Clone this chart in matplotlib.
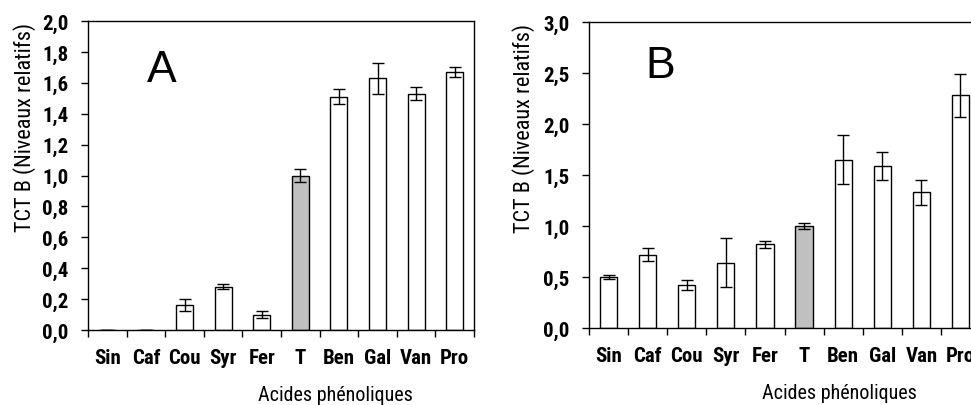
import matplotlib
matplotlib.use("Agg")
from matplotlib import pyplot as plt
from matplotlib.ticker import FixedLocator, NullFormatter, FuncFormatter
import numpy as np

# data
categories = ['Sin', 'Caf', 'Cou', 'Syr', 'Fer', 'T', 'Ben', 'Gal', 'Van', 'Pro']
values_a = [0.0, 0.0, 0.16, 0.28, 0.10, 1.0, 1.51, 1.63, 1.53, 1.67]
errors_a = [0.0, 0.0, 0.04, 0.015, 0.02, 0.04, 0.05, 0.10, 0.04, 0.035]
values_b = [0.50, 0.72, 0.42, 0.64, 0.82, 1.0, 1.65, 1.59, 1.33, 2.28]
errors_b = [0.02, 0.06, 0.05, 0.24, 0.035, 0.03, 0.24, 0.14, 0.12, 0.21]
control = 'T'

NARROW = ['Roboto Condensed', 'Liberation Sans Narrow', 'Roboto', 'DejaVu Sans']
REGULAR = ['Liberation Sans', 'DejaVu Sans']
W, H = 971, 406


def px_box(left, top, right, bottom):
    return [left / W, 1 - bottom / H, (right - left) / W, (bottom - top) / H]


def draw_panel(ax, values, errors, ymax, step, letter, letter_xy):
    x = np.arange(len(categories))
    colors = ['#c0c0c0' if c == control else 'white' for c in categories]
    ax.bar(x, values, width=0.44, color=colors, edgecolor='black', linewidth=1.0,
           yerr=errors, capsize=4, error_kw=dict(elinewidth=1.0, capthick=1.0, ecolor='black'))
    ax.set_xlim(-0.5, len(categories) - 0.5)
    ax.set_ylim(0, ymax)
    ax.set_yticks(np.arange(0, ymax + step / 2, step))
    ax.yaxis.set_major_formatter(FuncFormatter(lambda v, p: ('%.1f' % v).replace('.', ',')))
    ax.xaxis.set_major_locator(FixedLocator(np.arange(-0.5, len(categories), 1.0)))
    ax.xaxis.set_major_formatter(NullFormatter())
    ax.tick_params(axis='both', direction='out', length=5, width=1.0, color='black')
    ax.tick_params(axis='y', pad=9)
    for lab in ax.get_yticklabels():
        lab.set_family(NARROW)
        lab.set_weight('heavy')
        lab.set_fontsize(15)
    for xi, name in zip(x, categories):
        ax.text(xi, -0.09, name, transform=ax.get_xaxis_transform(), ha='center', va='center',
                family=NARROW, weight='heavy', fontsize=15)
    for sp in ax.spines.values():
        sp.set_linewidth(1.0)
        sp.set_color('black')
    ax.text(0.64, -0.21, 'Acides phénoliques', transform=ax.transAxes, ha='center',
            va='center', family=NARROW, fontsize=14.5)
    fig.text(letter_xy[0] / W, 1 - letter_xy[1] / H, letter, ha='center', va='center',
             family=REGULAR, fontsize=32)


fig = plt.figure(figsize=(W / 100, H / 100), dpi=100)

ax_a = fig.add_axes(px_box(88, 22, 474, 331))
draw_panel(ax_a, values_a, errors_a, 2.0, 0.2, 'A', (162, 70))
fig.text(25 / W, 1 - 127 / H, 'TCT B (Niveaux relatifs)', rotation=90, ha='center', va='center',
         family=NARROW, fontsize=16)

ax_b = fig.add_axes(px_box(589, 23, 980, 329))
draw_panel(ax_b, values_b, errors_b, 3.0, 0.5, 'B', (660, 67))
fig.text(524 / W, 1 - 128 / H, 'TCT B (Niveaux relatifs)', rotation=90, ha='center', va='center',
         family=NARROW, fontsize=16)

fig.savefig('out.png', dpi=100)
plt.close(fig)
